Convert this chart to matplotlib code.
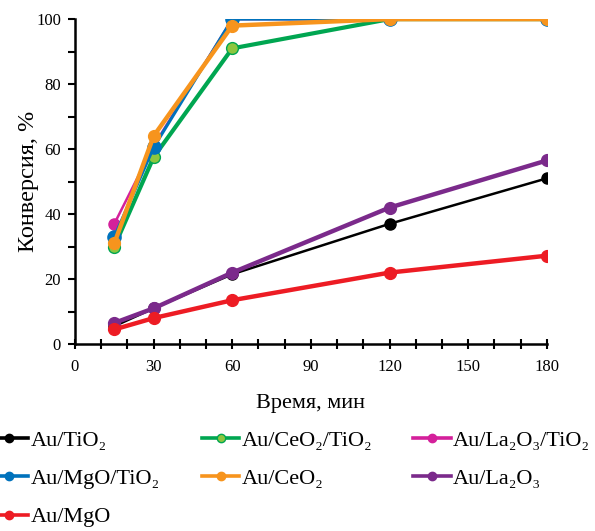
import numpy as np
import matplotlib.pyplot as plt
from matplotlib.lines import Line2D
from matplotlib.ticker import MultipleLocator

plt.rcParams['font.family'] = ['Liberation Serif', 'DejaVu Serif']

# data
t = [15, 30, 60, 120, 180]
au_tio2 = [5.5, 11, 21.5, 37, 51]
au_la2o3 = [6.5, 11, 22, 42, 56.5]
au_mgo = [4.5, 8, 13.5, 22, 27.2]
au_la2o3_tio2 = [37, 61, 100, 100, 100]
au_ceo2_tio2 = [30, 57.5, 91, 100, 100]
au_mgo_tio2 = [33, 60.5, 100, 100, 100]
au_ceo2 = [31, 64, 98, 100, 100]

fig = plt.figure(figsize=(5.95, 5.31), dpi=100)
ax = fig.add_axes([0.126, 0.352, 0.793, 0.612])

h = {}
h['tio2'], = ax.plot(t, au_tio2, '-o', color='black', lw=1.8, ms=8, label='Au/TiO₂')
h['la2o3'], = ax.plot(t, au_la2o3, '-o', color='#7b2a8b', lw=3.2, ms=8.5, label='Au/La₂O₃')
h['mgo'], = ax.plot(t, au_mgo, '-o', color='#ed1c24', lw=3.2, ms=8.5, label='Au/MgO')
h['la2o3_tio2'], = ax.plot(t, au_la2o3_tio2, '-o', color='#d4209b', lw=1.8, ms=8, label='Au/La₂O₃/TiO₂')
h['ceo2_tio2'], = ax.plot(t, au_ceo2_tio2, '-o', color='#00a651', mfc='#8dc63f', mec='#00a651',
                          mew=1, lw=3, ms=8.5, label='Au/CeO₂/TiO₂')
h['mgo_tio2'], = ax.plot(t, au_mgo_tio2, '-o', color='#0072bc', lw=2.2, ms=9.5, label='Au/MgO/TiO₂')
h['ceo2'], = ax.plot(t, au_ceo2, '-o', color='#f7941d', lw=3.2, ms=8.5, label='Au/CeO₂')

ax.set_xlim(0, 180)
ax.set_ylim(0, 100)
ax.xaxis.set_major_locator(MultipleLocator(30))
ax.xaxis.set_minor_locator(MultipleLocator(10))
ax.yaxis.set_major_locator(MultipleLocator(20))
ax.yaxis.set_minor_locator(MultipleLocator(10))
ax.tick_params(axis='x', which='both', direction='inout', length=7, width=1.5, labelsize=12, pad=7)
ax.tick_params(axis='y', which='both', direction='out', length=5, width=1.5, labelsize=12, pad=5)
for s in ['top', 'right']:
    ax.spines[s].set_visible(False)
for s in ['left', 'bottom']:
    ax.spines[s].set_linewidth(1.8)

ax.set_xlabel('Время, мин', fontsize=16, labelpad=14)
ax.set_ylabel('Конверсия, %', fontsize=17.5, labelpad=-2)

# legend: three columns placed separately
def proxy(k):
    ln = h[k]
    return Line2D([], [], color=ln.get_color(), lw=2.6, marker='o', ms=6,
                  mfc=ln.get_markerfacecolor(), mec=ln.get_markeredgecolor())

columns = [(['tio2', 'mgo_tio2', 'mgo'], -0.016),
           (['ceo2_tio2', 'ceo2'], 0.339),
           (['la2o3_tio2', 'la2o3'], 0.694)]
for keys, x0 in columns:
    fig.legend([proxy(k) for k in keys], [h[k].get_label() for k in keys],
               loc='upper left', bbox_to_anchor=(x0, 0.19), frameon=False,
               fontsize=16, handlelength=1.7, handletextpad=0.1,
               labelspacing=0.8, borderpad=0, borderaxespad=0)

fig.savefig('out.png', dpi=100)
